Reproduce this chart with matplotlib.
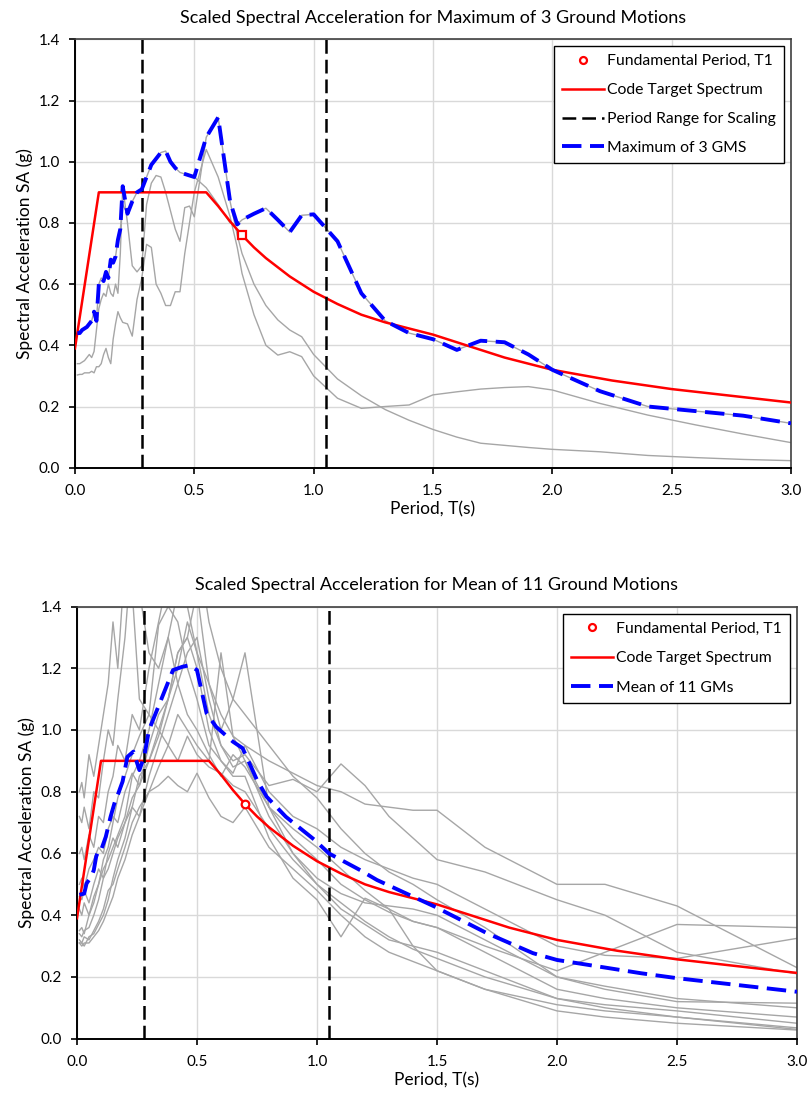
import numpy as np
import matplotlib
matplotlib.use("Agg")
import matplotlib.pyplot as plt
from matplotlib.lines import Line2D
from matplotlib.ticker import FormatStrFormatter

plt.rcParams['font.family'] = ['Lato', 'DejaVu Sans']

# Code target spectrum
target_T = [0.0, 0.10, 0.55, 0.60, 0.65, 0.70, 0.75, 0.80, 0.90, 1.00, 1.10,
            1.20, 1.30, 1.40, 1.50, 1.60, 1.80, 2.00, 2.25, 2.50, 2.75, 3.00]
target_sa = [0.39, 0.90, 0.90, 0.855, 0.805, 0.76, 0.72, 0.685, 0.625, 0.575, 0.535,
             0.50, 0.475, 0.455, 0.435, 0.41, 0.36, 0.32, 0.285, 0.257, 0.235, 0.213]

T1 = 0.70
T1_sa = 0.76
scale_range = [0.28, 1.05]

# Top chart: 3 ground motions on a common period grid
gm3_T = [0.01, 0.02, 0.03, 0.04, 0.05, 0.06, 0.07, 0.08, 0.09, 0.10,
         0.11, 0.12, 0.13, 0.14, 0.15, 0.16, 0.17, 0.18, 0.19, 0.20,
         0.22, 0.24, 0.26, 0.28, 0.30, 0.32, 0.34, 0.36, 0.38, 0.40,
         0.42, 0.44, 0.46, 0.48, 0.50,
         0.55, 0.60, 0.65, 0.68, 0.70, 0.75, 0.80, 0.85, 0.90, 0.95, 1.00,
         1.1, 1.2, 1.3, 1.4, 1.5, 1.6, 1.7, 1.8, 1.9, 2.0,
         2.2, 2.4, 2.6, 2.8, 3.0]
gm3_a = [0.34, 0.34, 0.345, 0.35, 0.36, 0.37, 0.36, 0.38, 0.45, 0.52,
         0.55, 0.57, 0.56, 0.60, 0.57, 0.56, 0.60, 0.57, 0.70, 0.92,
         0.80, 0.66, 0.64, 0.66, 0.86, 0.93, 0.955, 0.95, 0.90, 0.84,
         0.78, 0.74, 0.85, 0.855, 0.82,
         1.08, 1.145, 0.87, 0.76, 0.70, 0.60, 0.53, 0.483, 0.45, 0.428, 0.37,
         0.29, 0.235, 0.19, 0.155, 0.125, 0.10, 0.08, 0.073, 0.066, 0.06,
         0.052, 0.04, 0.033, 0.027, 0.023]
gm3_b = [0.44, 0.44, 0.45, 0.455, 0.46, 0.47, 0.48, 0.51, 0.48, 0.60,
         0.62, 0.61, 0.64, 0.62, 0.68, 0.67, 0.69, 0.745, 0.78, 0.86,
         0.83, 0.87, 0.90, 0.91, 0.95, 0.99, 1.01, 1.03, 1.035, 1.00,
         0.98, 0.965, 0.96, 0.955, 0.95,
         0.915, 0.86, 0.80, 0.795, 0.81, 0.83, 0.848, 0.81, 0.77, 0.825, 0.828,
         0.74, 0.57, 0.48, 0.44, 0.42, 0.385, 0.415, 0.41, 0.37, 0.32,
         0.25, 0.20, 0.185, 0.17, 0.145]
gm3_c = [0.303, 0.305, 0.305, 0.31, 0.31, 0.31, 0.315, 0.31, 0.33, 0.33,
         0.34, 0.37, 0.39, 0.36, 0.34, 0.42, 0.47, 0.51, 0.49, 0.475,
         0.47, 0.43, 0.55, 0.62, 0.73, 0.72, 0.60, 0.57, 0.53, 0.53,
         0.575, 0.575, 0.70, 0.80, 0.90,
         1.04, 0.95, 0.82, 0.72, 0.635, 0.50, 0.40, 0.368, 0.379, 0.363, 0.30,
         0.227, 0.194, 0.20, 0.205, 0.238, 0.248, 0.257, 0.262, 0.265, 0.254,
         0.21, 0.172, 0.14, 0.11, 0.082]

# Bottom chart: 11 ground motions on a common period grid
gm11_T = [0.01, 0.02, 0.03, 0.05, 0.07, 0.09, 0.11, 0.13, 0.15, 0.17, 0.20,
          0.23, 0.26, 0.30, 0.34, 0.38, 0.42, 0.46,
          0.50, 0.55, 0.60, 0.65, 0.70, 0.80, 0.90, 1.00,
          1.10, 1.20, 1.30, 1.40, 1.50, 1.70, 2.00, 2.20, 2.50, 3.00]
gm11_sa = [
    [0.80, 0.83, 0.78, 0.92, 0.85, 0.95, 1.05, 1.15, 1.35, 1.20, 1.55, 1.45, 1.10, 1.05, 1.00, 0.95, 0.90, 0.98,
     0.92, 0.88, 0.86, 0.82, 0.80, 0.68, 0.58, 0.50, 0.44, 0.38, 0.33, 0.29, 0.26, 0.20, 0.13, 0.11, 0.09, 0.05],
    [0.72, 0.70, 0.75, 0.68, 0.80, 0.78, 0.90, 1.00, 0.95, 1.10, 1.30, 1.60, 1.45, 1.25, 1.20, 1.30, 1.15, 1.05,
     1.00, 0.92, 0.85, 0.92, 0.88, 0.75, 0.68, 0.62, 0.55, 0.48, 0.42, 0.38, 0.36, 0.28, 0.16, 0.13, 0.10, 0.07],
    [0.60, 0.62, 0.58, 0.66, 0.62, 0.72, 0.70, 0.80, 0.85, 0.95, 0.90, 1.05, 1.00, 1.20, 1.35, 1.50, 1.70, 1.85,
     1.60, 1.35, 1.20, 1.10, 1.05, 0.95, 0.85, 0.78, 0.68, 0.60, 0.54, 0.50, 0.45, 0.36, 0.20, 0.17, 0.13, 0.10],
    [0.50, 0.52, 0.49, 0.55, 0.58, 0.62, 0.60, 0.68, 0.72, 0.70, 0.80, 0.86, 0.82, 0.90, 0.98, 1.10, 1.25, 1.30,
     1.45, 1.15, 1.05, 0.98, 0.95, 0.90, 0.86, 0.82, 0.80, 0.76, 0.75, 0.74, 0.74, 0.62, 0.50, 0.50, 0.43, 0.23],
    [0.46, 0.45, 0.48, 0.44, 0.50, 0.55, 0.52, 0.60, 0.65, 0.62, 0.70, 0.75, 0.72, 0.85, 0.95, 1.05, 1.15, 1.25,
     1.30, 1.10, 0.95, 0.90, 0.92, 0.82, 0.84, 0.80, 0.89, 0.82, 0.72, 0.65, 0.58, 0.54, 0.45, 0.40, 0.28, 0.21],
    [0.42, 0.40, 0.44, 0.40, 0.46, 0.50, 0.55, 0.58, 0.62, 0.66, 0.72, 0.85, 0.90, 1.00, 1.15, 1.30, 1.45, 1.40,
     1.25, 1.05, 0.95, 0.88, 0.90, 0.75, 0.65, 0.58, 0.50, 0.45, 0.41, 0.38, 0.36, 0.30, 0.22, 0.28, 0.37, 0.36],
    [0.35, 0.36, 0.34, 0.40, 0.44, 0.50, 0.58, 0.62, 0.70, 0.78, 0.85, 0.92, 0.98, 1.05, 1.34, 1.40, 1.35, 1.20,
     1.10, 0.95, 0.90, 0.85, 0.85, 0.65, 0.52, 0.45, 0.33, 0.455, 0.42, 0.30, 0.22, 0.16, 0.11, 0.09, 0.07, 0.035],
    [0.34, 0.33, 0.35, 0.36, 0.40, 0.45, 0.52, 0.55, 0.60, 0.65, 0.70, 0.78, 0.82, 0.95, 1.05, 1.10, 1.25, 1.30,
     1.20, 1.00, 0.90, 0.86, 0.95, 0.80, 0.72, 0.68, 0.62, 0.58, 0.55, 0.52, 0.50, 0.42, 0.30, 0.27, 0.26, 0.325],
    [0.32, 0.31, 0.33, 0.32, 0.35, 0.38, 0.42, 0.48, 0.50, 0.55, 0.62, 0.70, 0.75, 0.80, 0.88, 0.95, 1.05, 1.00,
     0.95, 0.90, 1.25, 0.98, 0.90, 0.72, 0.60, 0.52, 0.47, 0.44, 0.43, 0.42, 0.40, 0.32, 0.20, 0.16, 0.12, 0.115],
    [0.31, 0.31, 0.30, 0.33, 0.34, 0.37, 0.40, 0.45, 0.52, 0.58, 0.65, 0.75, 0.85, 0.90, 1.00, 1.10, 1.20, 1.35,
     1.25, 1.15, 1.00, 1.10, 1.25, 0.75, 0.60, 0.50, 0.42, 0.37, 0.32, 0.30, 0.28, 0.22, 0.13, 0.10, 0.07, 0.03],
    [0.31, 0.30, 0.31, 0.31, 0.33, 0.35, 0.38, 0.42, 0.46, 0.52, 0.58, 0.66, 0.72, 0.80, 0.82, 0.85, 0.82, 0.80,
     0.86, 0.78, 0.72, 0.70, 0.75, 0.62, 0.55, 0.48, 0.40, 0.33, 0.28, 0.25, 0.22, 0.16, 0.09, 0.07, 0.05, 0.028],
]

# Mean of 11 GMs as drawn in the chart
mean11_T = [0.01, 0.03, 0.04, 0.06, 0.07, 0.08, 0.09, 0.10, 0.12, 0.14,
            0.16, 0.17, 0.19, 0.21, 0.235, 0.26, 0.28, 0.30, 0.35, 0.40,
            0.44, 0.47, 0.50, 0.54, 0.58, 0.65, 0.69, 0.75, 0.79, 0.87,
            0.99, 1.05, 1.18, 1.25, 1.49, 1.71, 1.90, 2.0, 2.35, 2.5, 3.0]
mean11_sa = [0.466, 0.47, 0.503, 0.525, 0.546, 0.59, 0.61, 0.61, 0.654, 0.719,
             0.773, 0.79, 0.833, 0.913, 0.93, 0.87, 0.913, 1.0, 1.097, 1.194,
             1.205, 1.21, 1.194, 1.054, 1.01, 0.962, 0.941, 0.838, 0.784, 0.719,
             0.644, 0.60, 0.546, 0.514, 0.428, 0.341, 0.277, 0.255, 0.212, 0.196, 0.152]

GRAY = "#a6a6a6"
FS = 11.3


def style_axes(ax, title):
    ax.set_xlim(0, 3.0)
    ax.set_ylim(0, 1.4)
    ax.set_xticks(np.arange(0, 3.01, 0.5))
    ax.set_yticks(np.arange(0, 1.41, 0.2))
    ax.xaxis.set_major_formatter(FormatStrFormatter("%.1f"))
    ax.yaxis.set_major_formatter(FormatStrFormatter("%.1f"))
    ax.grid(True, color="#d9d9d9", linewidth=1.0)
    ax.set_axisbelow(True)
    ax.tick_params(direction="out", length=4, width=1.2, labelsize=11)
    ax.tick_params(axis="x", pad=8)
    ax.tick_params(axis="y", pad=7)
    for side in ["left", "bottom"]:
        ax.spines[side].set_color("black")
        ax.spines[side].set_linewidth(1.4)
    for side in ["top", "right"]:
        ax.spines[side].set_color("#404040")
        ax.spines[side].set_linewidth(1.2)
    ax.set_title(title, fontsize=13, pad=12)
    ax.set_xlabel("Period, T(s)", fontsize=12.5, labelpad=2)
    ax.set_ylabel("Spectral Acceleration SA (g)", fontsize=12.5, labelpad=4)


def draw_common(ax, marker):
    ax.plot(target_T, target_sa, color="red", linewidth=1.8, zorder=3)
    for xv in scale_range:
        ax.axvline(xv, color="black", linewidth=1.8, dashes=(5.5, 2.4), zorder=4)
    ax.plot([T1], [T1_sa], linestyle="none", marker=marker, markersize=5.5,
            markerfacecolor="white", markeredgecolor="red", markeredgewidth=1.6, zorder=6)


fig = plt.figure(figsize=(8.07, 10.93), dpi=100)

# ---- top chart: maximum of 3 GMs
ax1 = fig.add_axes([0.0929, 0.5721, 0.8872, 0.3919])
for gm in [gm3_a, gm3_b, gm3_c]:
    ax1.plot(gm3_T, gm, color=GRAY, linewidth=1.0, zorder=2)
gm3_max = np.max([gm3_a, gm3_b, gm3_c], axis=0)
draw_common(ax1, "s")
ax1.plot(gm3_T, gm3_max, color="blue", linewidth=2.8, dashes=(5, 2.2), zorder=5)
style_axes(ax1, "Scaled Spectral Acceleration for Maximum of 3 Ground Motions")

marker_proxy = Line2D([], [], linestyle="none", marker="o", markersize=5,
                      markerfacecolor="white", markeredgecolor="red", markeredgewidth=1.6)
red_proxy = Line2D([], [], color="red", linewidth=1.8)
black_proxy = Line2D([], [], color="black", linewidth=1.8, dashes=(5.5, 2.4))
blue_proxy = Line2D([], [], color="blue", linewidth=2.8, dashes=(5, 2.2))

leg1 = ax1.legend([marker_proxy, red_proxy, black_proxy, blue_proxy],
                  ["Fundamental Period, T1", "Code Target Spectrum",
                   "Period Range for Scaling", "Maximum of 3 GMS"],
                  loc="upper right", fontsize=FS, fancybox=False, framealpha=1,
                  edgecolor="black", handlelength=2.7, handletextpad=0.2,
                  labelspacing=0.95, borderaxespad=0.45, borderpad=0.5)
leg1.get_frame().set_linewidth(1.0)

# ---- bottom chart: mean of 11 GMs
ax2 = fig.add_axes([0.0954, 0.0497, 0.8922, 0.3954])
for gm in gm11_sa:
    ax2.plot(gm11_T, gm, color=GRAY, linewidth=1.0, zorder=2)
draw_common(ax2, "o")
ax2.plot(mean11_T, mean11_sa, color="blue", linewidth=2.8, dashes=(5, 2.2), zorder=5)
style_axes(ax2, "Scaled Spectral Acceleration for Mean of 11 Ground Motions")

leg2 = ax2.legend([marker_proxy, red_proxy, blue_proxy],
                  ["Fundamental Period, T1", "Code Target Spectrum", "Mean of 11 GMs"],
                  loc="upper right", fontsize=FS, fancybox=False, framealpha=1,
                  edgecolor="black", handlelength=2.7, handletextpad=0.2,
                  labelspacing=1.0, borderaxespad=0.45, borderpad=0.5)
leg2.get_frame().set_linewidth(1.0)

fig.savefig("out.png", dpi=100)
